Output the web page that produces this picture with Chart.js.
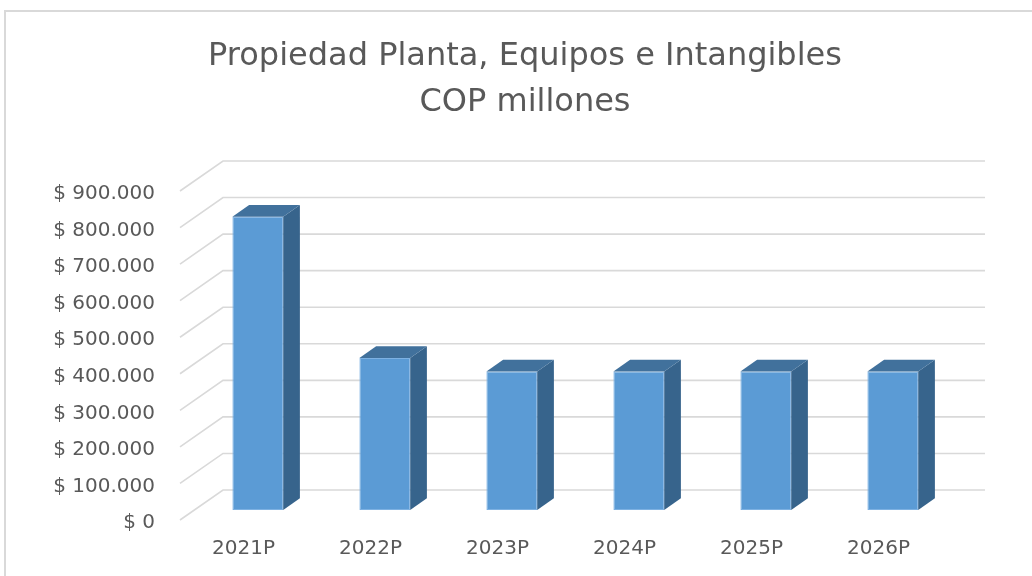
<!DOCTYPE html>
<html>
<head>
<meta charset="utf-8">
<script src="https://cdn.jsdelivr.net/npm/chart.js@4.4.1/dist/chart.umd.min.js"></script>
<style>
  html, body { margin: 0; padding: 0; background: #ffffff; }
  #wrap { position: relative; width: 1032px; height: 576px; overflow: hidden; }
  #frame { position: absolute; left: 4px; top: 10px; width: 1100px; height: 700px;
           border: 2px solid #d9d9d9; box-sizing: border-box; pointer-events: none; }
  canvas { position: absolute; left: 0; top: 0; }
</style>
</head>
<body>
<div id="wrap">
  <canvas id="c" width="1032" height="576"></canvas>
  <div id="frame"></div>
</div>
<script>
// ---- data ----
const categories = ['2021P', '2022P', '2023P', '2024P', '2025P', '2026P'];
const values = [802000, 416000, 379000, 379000, 379000, 379000];
const titleLines = ['Propiedad Planta, Equipos e Intangibles', 'COP millones'];
const yMin = 0;
const yMax = 900000;
const yStep = 100000;

// ---- style constants ----
const FONT = '"DejaVu Sans", sans-serif';
const TEXT = '#595959';
const GRID = '#d9d9d9';
const FRONT = '#5b9bd5';
const TOP = '#41719c';
const SIDE = '#37648c';
// 3D offsets (relative to bar front plane)
const WALL_DX = 28.7, WALL_DY = -20;   // back wall
const FRONT_DX = -14.3, FRONT_DY = 10; // front edge of floor
const BAR_DX = 16.7, BAR_DY = -11.7;   // bar depth
const PAD_LEFT = 18, PLOT_LEFT = 194.3, RIGHT_GAP = 75.7;

function fmt(v) {
  return '$ ' + String(Math.round(v)).replace(/\B(?=(\d{3})+(?!\d))/g, '.');
}

const threeD = {
  id: 'threeD',
  beforeDatasetsDraw(chart) {
    const ctx = chart.ctx;
    const ys = chart.scales.y;
    const area = chart.chartArea;
    ctx.save();
    ctx.strokeStyle = GRID;
    ctx.lineWidth = 1.6;
    ys.ticks.forEach(t => {
      const py = ys.getPixelForValue(t.value);
      ctx.beginPath();
      ctx.moveTo(area.left + FRONT_DX, py + FRONT_DY);
      ctx.lineTo(area.left + WALL_DX, py + WALL_DY);
      ctx.lineTo(area.right + WALL_DX, py + WALL_DY);
      ctx.stroke();
    });
    ctx.restore();
  },
  afterDatasetsDraw(chart) {
    const ctx = chart.ctx;
    const meta = chart.getDatasetMeta(0);
    ctx.save();
    meta.data.forEach(el => {
      const p = el.getProps(['x', 'y', 'base', 'width'], true);
      const l = p.x - p.width / 2, r = p.x + p.width / 2;
      const top = p.y, base = p.base;
      ctx.fillStyle = SIDE;
      ctx.beginPath();
      ctx.moveTo(r, top);
      ctx.lineTo(r + BAR_DX, top + BAR_DY);
      ctx.lineTo(r + BAR_DX, base + BAR_DY);
      ctx.lineTo(r, base);
      ctx.closePath();
      ctx.fill();
      ctx.fillStyle = TOP;
      ctx.beginPath();
      ctx.moveTo(l, top);
      ctx.lineTo(l + BAR_DX, top + BAR_DY);
      ctx.lineTo(r + BAR_DX, top + BAR_DY);
      ctx.lineTo(r, top);
      ctx.closePath();
      ctx.fill();
    });
    ctx.restore();
  }
};

new Chart(document.getElementById('c'), {
  type: 'bar',
  data: {
    labels: categories,
    datasets: [{
      data: values,
      backgroundColor: FRONT,
      borderColor: '#7db1e2',
      borderWidth: 1,
      borderSkipped: false,
      categoryPercentage: 1.0,
      barPercentage: 0.4,
      yAxisID: 'y'
    }]
  },
  options: {
    responsive: false,
    devicePixelRatio: 1,
    animation: false,
    layout: { padding: { top: 0, left: PAD_LEFT, right: 0, bottom: 0 } },
    plugins: {
      legend: { display: false },
      tooltip: { enabled: false },
      title: {
        display: true,
        text: titleLines,
        color: TEXT,
        font: { family: FONT, size: 32, weight: 'normal', lineHeight: 1.4375 },
        padding: { top: 34, bottom: 55 }
      }
    },
    scales: {
      x: {
        grid: { display: false, drawTicks: false },
        border: { display: false },
        ticks: {
          color: TEXT,
          font: { family: FONT, size: 20 },
          padding: 27,
          labelOffset: FRONT_DX,
          maxRotation: 0
        },
        afterFit(scale) { scale.height = 66; }
      },
      y: {
        position: 'left',
        min: yMin,
        max: yMax,
        grid: { display: false, drawTicks: false },
        border: { display: false },
        ticks: {
          stepSize: yStep,
          color: TEXT,
          font: { family: FONT, size: 20 },
          padding: 39.3,
          labelOffset: 13,
          callback: v => fmt(v)
        },
        afterFit(scale) { scale.width = PLOT_LEFT - PAD_LEFT; }
      },
      gap: {
        position: 'right',
        min: 0,
        max: 1,
        grid: { display: false, drawTicks: false },
        border: { display: false },
        ticks: { display: false },
        afterFit(scale) { scale.width = RIGHT_GAP; }
      }
    }
  },
  plugins: [threeD]
});
</script>
</body>
</html>
